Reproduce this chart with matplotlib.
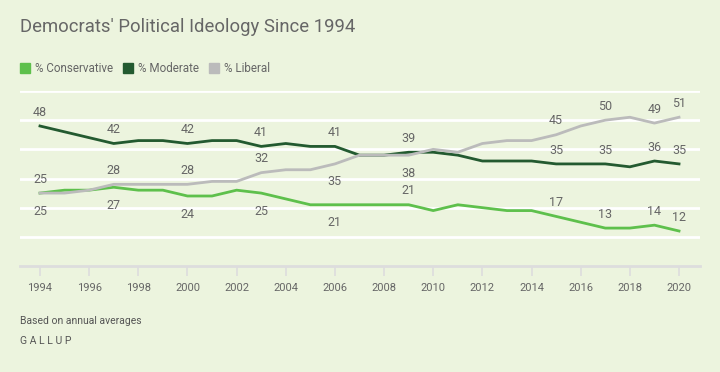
import matplotlib.pyplot as plt
import numpy as np

plt.rcParams['font.family'] = ['Roboto', 'DejaVu Sans']

years = list(range(1994, 2021))
conservative = [25, 26, 26, 27, 26, 26, 24, 24, 26, 25, 23, 21, 21, 21,
                21, 21, 19, 21, 20, 19, 19, 17, 15, 13, 13, 14, 12]
moderate = [48, 46, 44, 42, 43, 43, 42, 43, 43, 41, 42, 41, 41, 38,
            38, 39, 39, 38, 36, 36, 36, 35, 35, 35, 34, 36, 35]
liberal = [25, 25, 26, 28, 28, 28, 28, 29, 29, 32, 33, 33, 35, 38,
           38, 38, 40, 39, 42, 43, 43, 45, 48, 50, 51, 49, 51]

label_years = [1994, 1997, 2000, 2003, 2006, 2009, 2015, 2017, 2019, 2020]
# side of each label: +1 above the line, -1 below
cons_side = [-1, -1, -1, -1, -1, 1, 1, 1, 1, 1]
mod_side = [1] * 10
lib_side = [1, 1, 1, 1, -1, -1, 1, 1, 1, 1]

bg = '#ECF4DE'
c_cons = '#5EC04C'
c_mod = '#235A30'
c_lib = '#BBBBBB'
txt = '#666666'

fig = plt.figure(figsize=(7.2, 3.72), dpi=100, facecolor=bg)
ax = fig.add_axes([20 / 720, 1 - 266 / 372, 680 / 720, 175 / 372])
ax.set_facecolor(bg)

ax.set_xlim(1994 - 20 / 24.6, 2020 + 21 / 24.6)
ax.set_ylim(0, 60)
for g in range(10, 61, 10):
    ax.axhline(g, color='white', lw=2, zorder=1)

series = [(conservative, c_cons, cons_side),
          (moderate, c_mod, mod_side),
          (liberal, c_lib, lib_side)]
for vals, col, sides in series:
    ax.plot(years, vals, color=col, lw=2, zorder=3)
    for yr, s in zip(label_years, sides):
        v = vals[years.index(yr)]
        off = 10 if s > 0 else -13
        ax.annotate(str(v), (yr, v), xytext=(0, off), textcoords='offset points',
                    ha='center', va='center', fontsize=9, color=txt, zorder=4)

for sp in ['top', 'right', 'left']:
    ax.spines[sp].set_visible(False)
ax.spines['bottom'].set_color('#DDDDDD')
ax.spines['bottom'].set_linewidth(2)
ax.set_yticks([])
ax.set_xticks(range(1994, 2021, 2))
ax.tick_params(axis='x', length=7, width=1.2, color='#DDDDDD', labelcolor=txt,
               labelsize=8, pad=5)

fig.text(20 / 720, 1 - 27 / 372, "Democrats' Political Ideology Since 1994",
         fontsize=13.3, color=txt, va='center', ha='left')

lx = 20
for name, col in [('% Conservative', c_cons), ('% Moderate', c_mod), ('% Liberal', c_lib)]:
    fig.patches.append(plt.Rectangle((lx / 720, 1 - 73 / 372), 10 / 720, 10 / 372,
                                     transform=fig.transFigure, color=col))
    t = fig.text((lx + 15) / 720, 1 - 68 / 372, name, fontsize=8.4, color=txt,
                 va='center', ha='left')
    fig.canvas.draw()
    w = t.get_window_extent().width
    lx = lx + 15 + w + 10

fig.text(20 / 720, 1 - 320.5 / 372, 'Based on annual averages', fontsize=7.5,
         color='#555555', va='center', ha='left')
fig.text(20 / 720, 1 - 341.5 / 372, 'G A L L U P', fontsize=7.5, color='#555555',
         va='center', ha='left')

fig.savefig('out.png', dpi=100, facecolor=bg)
